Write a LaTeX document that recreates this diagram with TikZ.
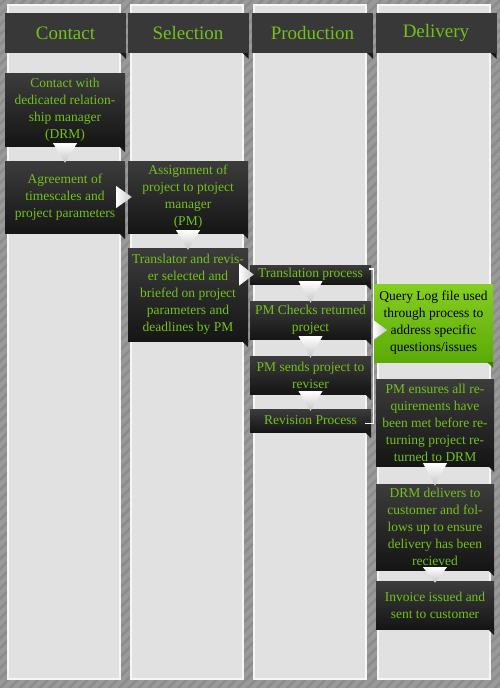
\documentclass[tikz,border=0pt]{standalone}
\usepackage{amssymb}
\usepackage{amsmath}
\usepackage{pgf,tikz}
\usepackage{xcolor}
\usepackage{fontspec}
\setmainfont{Liberation Serif}
\usetikzlibrary{arrows, calc, patterns.meta}

\definecolor{bggrey}{HTML}{9A9A9A}
\definecolor{stripecol}{HTML}{8C8C8C}
\definecolor{lanefill}{HTML}{E1E1E1}
\definecolor{laneedge}{HTML}{F6F6F6}
\definecolor{headgrey}{HTML}{383838}
\definecolor{boxtop}{HTML}{3C3C3C}
\definecolor{boxbot}{HTML}{151515}
\definecolor{leaf}{HTML}{72C21A}
\definecolor{qtop}{HTML}{86CE22}
\definecolor{qbot}{HTML}{5AAA08}
\definecolor{foldcol}{HTML}{1A1A1A}
\definecolor{qfold}{HTML}{3E7A06}

\tikzset{
    lane/.style={fill=lanefill, draw=laneedge, line width=1.2pt},
    header/.style={fill=headgrey, text=leaf, font=\fontsize{19}{22}\selectfont,
        minimum width=121pt, minimum height=40pt, inner sep=0pt},
    stage/.style={top color=boxtop, bottom color=boxbot, text=leaf,
        font=\fontsize{13.5}{17}\selectfont, align=center, inner sep=0pt},
    query/.style={stage, top color=qtop, bottom color=qbot, text=black},
    fold/.style={fill=foldcol},
    downtri/.style={top color=white, bottom color=gray!45},
    righttri/.style={left color=white, right color=gray!45},
    bracket/.style={draw=white, line width=1.4pt}
}

\newcommand{\downarr}[2]{%
    \path[downtri] ($(#1.south)+(-12,-3)$) -- ($(#1.south)+(12,-3)$)
        -- ($(#1.south |- #2.north)+(0,2)$) -- cycle;}
\newcommand{\rightarr}[2]{%
    \path[righttri] ($(#1.east |- #2.west)+(-9,-11)$) -- ($(#1.east |- #2.west)+(-9,11)$)
        -- ($(#2.west)+(4,0)$) -- cycle;}

\begin{document}
\begin{tikzpicture}[x=1pt,y=-1pt]
        \useasboundingbox (0,0) rectangle (500,688);
        \fill[bggrey] (0,0) rectangle (500,688);
        \fill[pattern={Lines[angle=45,distance=7pt,line width=2.5pt]}, pattern color=stripecol]
            (0,0) rectangle (500,688);

        \foreach \l in {8,131,254,378}
            \draw[lane] (\l,5) rectangle ++(112,674);

        \node[header] (hcontact) at (65.5,33) {Contact};
        \node[header] (hselect) at (188,33) {Selection};
        \node[header] (hprod) at (312.5,33) {Production};
        \node[header] (hdeliv) at (436,33) {Delivery};

        \node[stage, minimum width=120pt, minimum height=73pt] (drm) at (65,109.5)
            {Contact with\\dedicated relation-\\ship manager\\(DRM)};
        \node[stage, minimum width=120pt, minimum height=72pt] (agree) at (65,197)
            {Agreement of\\timescales and\\project parameters};
        \node[stage, minimum width=120pt, minimum height=72pt] (assign) at (188,197)
            {Assignment of\\project to ptoject\\manager\\(PM)};
        \node[stage, minimum width=120pt, minimum height=93pt] (select) at (188,294.5)
            {Translator and revis-\\er selected and\\briefed on project\\parameters and\\deadlines by PM};

        \node[stage, minimum width=121pt, minimum height=19pt] (trans) at (310.5,274.5)
            {Translation process};
        \node[stage, minimum width=121pt, minimum height=38pt] (check) at (310.5,320)
            {PM Checks returned\\project};
        \node[stage, minimum width=121pt, minimum height=38pt] (sends) at (310.5,375)
            {PM sends project to\\reviser};
        \node[stage, minimum width=121pt, minimum height=23pt] (rev) at (310.5,420.5)
            {Revision Process};

        \node[query, minimum width=119pt, minimum height=78pt] (qlog) at (433.5,323)
            {Query Log file used\\through process to\\address specific\\questions/issues};
        \node[stage, minimum width=118pt, minimum height=87pt] (ensure) at (435,422.5)
            {PM ensures all re-\\quirements have\\been met before re-\\turning project re-\\turned to DRM};
        \node[stage, minimum width=118pt, minimum height=86pt] (deliver) at (435,527)
            {DRM delivers to\\customer and fol-\\lows up to ensure\\delivery has been\\recieved};
        \node[stage, minimum width=118pt, minimum height=48pt] (invoice) at (435,605)
            {Invoice issued and\\sent to customer};

        \foreach \n in {hcontact,hselect,hprod,hdeliv,drm,agree,assign,select,trans,check,sends,rev,ensure,deliver,invoice}
            \fill[fold] (\n.south east) -- ++(-6,0) -- ++(6,6) -- cycle;
        \fill[qfold] (qlog.south east) -- ++(-6,0) -- ++(6,6) -- cycle;

        \draw[bracket] ($(trans.north east)+(-2,4)$) -- ++(4,0) |- ($(rev.east)+(-6,3)$);
        \coordinate (brk) at ($(trans.east)+(2,0)$);

        \downarr{drm}{agree}
        \rightarr{agree}{assign}
        \downarr{assign}{select}
        \rightarr{select}{trans}
        \downarr{trans}{check}
        \downarr{check}{sends}
        \downarr{sends}{rev}
        \path[righttri] ($(brk |- qlog.west)+(0,-3)$) -- ($(brk |- qlog.west)+(0,17)$)
            -- ($(brk |- qlog.west)+(14,7)$) -- cycle;
        \downarr{ensure}{deliver}
        \downarr{deliver}{invoice}
    \end{tikzpicture}
\end{document}
